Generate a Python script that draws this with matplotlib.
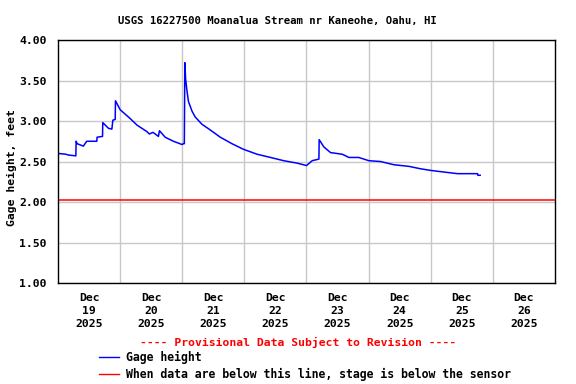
import numpy as np
import matplotlib.pyplot as plt
from matplotlib.lines import Line2D

# Données (heures depuis le 19 déc. 00:00, hauteur en pieds)
hours = [0, 3, 4, 6.9, 7.0, 7.4, 9.0, 9.8, 11.1, 15.0, 15.1, 17.2, 17.3, 19.5,
         20.8, 21.2, 22.1, 22.2, 24.0, 27.9, 30.5, 34.3, 35.3, 36.7, 38.8,
         39.2, 41.4, 44.6, 47.9, 48.5, 48.8, 49.0, 49.3, 49.8, 50.4, 51.8,
         53.0, 55.6, 58.8, 62.7, 67.2, 71.7, 76.9, 82.1, 87.2, 92.4, 96.0,
         98.2, 100.8, 100.9, 102.7, 105.3, 109.8, 112.4, 116.2, 120.1, 124.6,
         129.8, 135.6, 140.1, 144.0, 149.1, 154.3, 162.1, 162.2, 163.1]
gage = [2.60, 2.59, 2.58, 2.57, 2.75, 2.72, 2.70, 2.69, 2.75, 2.75, 2.80, 2.81,
        2.98, 2.91, 2.90, 3.01, 3.02, 3.25, 3.14, 3.03, 2.95, 2.87, 2.84, 2.86,
        2.81, 2.88, 2.80, 2.75, 2.71, 2.72, 2.72, 3.72, 3.52, 3.38, 3.24, 3.12,
        3.05, 2.96, 2.89, 2.80, 2.72, 2.65, 2.59, 2.55, 2.51, 2.48, 2.45,
        2.51, 2.53, 2.77, 2.68, 2.61, 2.59, 2.55, 2.55, 2.51, 2.50, 2.46, 2.44,
        2.41, 2.39, 2.37, 2.35, 2.35, 2.33, 2.33]
sensor_level = 2.02
days = ['19', '20', '21', '22', '23', '24', '25', '26']

font = dict(family='DejaVu Sans Mono', weight='bold', size=8.2)

fig = plt.figure(figsize=(5.76, 3.84), dpi=100)
ax = fig.add_axes([0.1007, 0.263, 0.8628, 0.6328])

ax.plot(hours, gage, color='#0000ff', lw=1.1)
ax.axhline(sensor_level, color='#ff0000', lw=1.1)

ax.set_xlim(0, 24 * len(days))
ax.set_ylim(1.0, 4.0)
ax.set_yticks(np.arange(1.0, 4.01, 0.5))
ax.set_yticklabels(['%.2f' % v for v in np.arange(1.0, 4.01, 0.5)], fontdict=font)

ax.set_xticks([24 * i for i in range(1, len(days))])
ax.set_xticklabels([])
ax.set_xticks([24 * i + 12 for i in range(len(days))], minor=True)
ax.set_xticklabels(['Dec\n%s\n2025' % d for d in days], minor=True, fontdict=font,
                   linespacing=1.4)
ax.tick_params(which='both', length=0)
ax.tick_params(axis='y', pad=8)
ax.tick_params(axis='x', which='minor', pad=7)
ax.grid(True, which='major', color='#c8c8c8', lw=1)
ax.set_axisbelow(True)
for s in ax.spines.values():
    s.set_linewidth(1)

ax.set_ylabel('Gage height, feet', fontdict=font)
ax.yaxis.set_label_coords(-0.083, 0.477)
fig.text(0.482, 0.945, 'USGS 16227500 Moanalua Stream nr Kaneohe, Oahu, HI',
         ha='center', va='center', **dict(font, size=7.7))
fig.text(0.517, 0.107, '---- Provisional Data Subject to Revision ----',
         ha='center', va='center', color='#ff0000', **font)

handles = [Line2D([], [], color='#0000ff', lw=1),
           Line2D([], [], color='#ff0000', lw=1)]
fig.legend(handles, ['Gage height',
                     'When data are below this line, stage is below the sensor'],
           loc='upper left', bbox_to_anchor=(0.172, 0.086), frameon=False,
           prop=dict(family='DejaVu Sans Mono', weight='bold', size=8.3),
           handlelength=1.7, handletextpad=0.6, labelspacing=0.3,
           borderpad=0, borderaxespad=0)

fig.savefig('out.png', dpi=100)
